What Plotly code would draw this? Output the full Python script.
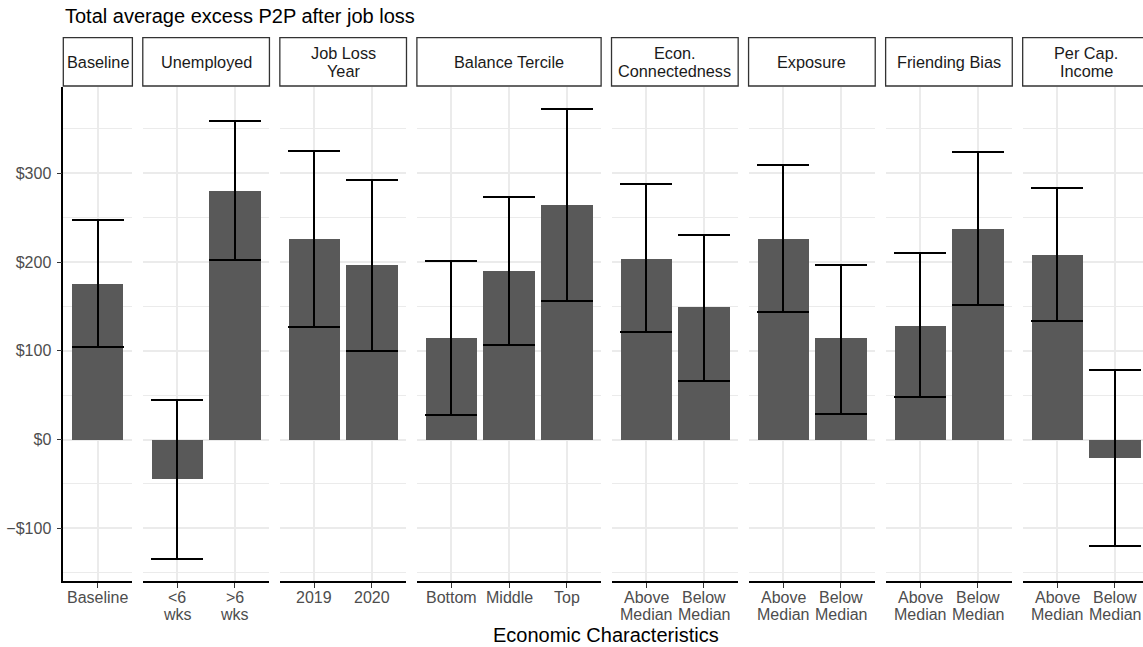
import plotly.graph_objects as go

# ---------------- data ----------------
panels = ["Baseline", "Unemployed", "Job Loss\nYear", "Balance Tercile",
          "Econ.\nConnectedness", "Exposure", "Friending Bias", "Per Cap.\nIncome"]
categories = [
    ["Baseline"],
    ["<6\nwks", ">6\nwks"],
    ["2019", "2020"],
    ["Bottom", "Middle", "Top"],
    ["Above\nMedian", "Below\nMedian"],
    ["Above\nMedian", "Below\nMedian"],
    ["Above\nMedian", "Below\nMedian"],
    ["Above\nMedian", "Below\nMedian"],
]
estimate = [[175], [-44, 280], [226, 197], [115, 190, 264], [203, 149],
            [226, 114], [128, 237], [208, -21]]
lower = [[104], [-134, 202], [127, 100], [28, 107, 156], [121, 66],
         [144, 29], [48, 152], [134, -120]]
upper = [[247], [45, 359], [325, 293], [201, 273, 372], [288, 231],
         [309, 197], [210, 324], [283, 79]]
y_ticks = [-100, 0, 100, 200, 300]
y_tick_labels = ["\u2212$100", "$0", "$100", "$200", "$300"]
title_text = "Total average excess P2P after job loss"
x_title = "Economic Characteristics"

# ---------------- layout geometry (pixels) ----------------
W, H = 1143, 647
LEFT = 63.3
UNIT = 57.57
GAP = 10.4
PANEL_TOP = 87.0
PANEL_BOTTOM = 581.0
STRIP_TOP = 37.7
STRIP_BOTTOM = 86.0
Y_RANGE = [-159.3, 397.3]
TICK_LINE1 = 597.3
TICK_LINE_SP = 17.0

FONT = "Liberation Sans, Arial, Helvetica, sans-serif"
BAR_COLOR = "#595959"
GRID = "#EBEBEB"


def px(p):
    return p / W


def py(p):
    return 1 - p / H


fig = go.Figure()
layout = dict(
    width=W, height=H,
    margin=dict(l=0, r=0, t=0, b=0),
    paper_bgcolor="white", plot_bgcolor="white",
    showlegend=False,
    template="none",
    font=dict(family=FONT, size=16, color="#4D4D4D"),
    bargap=0,
)
shapes = []
annotations = []

x0 = LEFT
for i, (pname, cats) in enumerate(zip(panels, categories)):
    n = len(cats)
    width_px = (n + 0.2) * UNIT
    x1 = x0 + width_px
    x1c = min(x1, W)
    rng_hi = -0.6 + (x1c - x0) / UNIT
    ax = "" if i == 0 else str(i + 1)
    keys = [f"c{j}" for j in range(n)]
    est = estimate[i]
    up = [u - e for u, e in zip(upper[i], est)]
    dn = [e - l for l, e in zip(lower[i], est)]
    fig.add_trace(go.Bar(
        x=keys, y=est, width=0.9, marker=dict(color=BAR_COLOR, line=dict(width=0)),
        error_y=dict(type="data", symmetric=False, array=up, arrayminus=dn,
                     color="black", thickness=2, width=26),
        xaxis="x" + ax, yaxis="y" + ax, hoverinfo="skip",
    ))
    layout["xaxis" + ax] = dict(
        domain=[px(x0), px(x1c)], anchor="y" + ax, type="category",
        categoryorder="array", categoryarray=keys,
        tickvals=keys, showticklabels=False,
        range=[-0.6, rng_hi], showgrid=True, gridcolor=GRID, gridwidth=1.5,
        showline=True, linecolor="black", linewidth=1.6,
        ticks="outside", ticklen=5, tickwidth=1.4, tickcolor="#333333",
        zeroline=False, fixedrange=True, automargin=False,
    )
    layout["yaxis" + ax] = dict(
        domain=[py(PANEL_BOTTOM), py(PANEL_TOP)], anchor="x" + ax,
        range=Y_RANGE, tickvals=y_ticks, ticktext=y_tick_labels,
        showticklabels=(i == 0), ticks="outside" if i == 0 else "",
        ticklen=5, tickwidth=1.4, tickcolor="#333333", ticklabelstandoff=2,
        tickfont=dict(family=FONT, size=16, color="#4D4D4D"),
        showgrid=True, gridcolor=GRID, gridwidth=1.5,
        minor=dict(dtick=50, tick0=0, showgrid=True, gridcolor=GRID, gridwidth=0.9),
        showline=(i == 0), linecolor="black", linewidth=1.6,
        zeroline=False, fixedrange=True, automargin=False,
    )
    # category tick labels (one annotation per text line, tied to the category axis)
    for key, cat in zip(keys, cats):
        for k, ln in enumerate(cat.split("\n")):
            annotations.append(dict(text=ln.replace("<", "&lt;").replace(">", "&gt;"),
                                    xref="x" + ax, yref="paper", x=key,
                                    y=py(TICK_LINE1 + k * TICK_LINE_SP),
                                    xanchor="center", yanchor="middle", showarrow=False,
                                    font=dict(family=FONT, size=16, color="#4D4D4D")))
    # strip
    shapes.append(dict(type="rect", xref="paper", yref="paper",
                       x0=px(x0), x1=px(x1) if x1 <= W else 1.002,
                       y0=py(STRIP_BOTTOM), y1=py(STRIP_TOP),
                       line=dict(color="#333333", width=1.3), fillcolor="white", layer="above"))
    lines = pname.split("\n")
    cy = (STRIP_TOP + STRIP_BOTTOM) / 2
    spacing = 18.4
    for k, ln in enumerate(lines):
        yc = cy + (k - (len(lines) - 1) / 2) * spacing
        annotations.append(dict(text=ln, xref="paper", yref="paper",
                                x=px((x0 + x1) / 2), y=py(yc), xanchor="center", yanchor="middle",
                                showarrow=False, font=dict(family=FONT, size=16.3, color="#1A1A1A")))
    x0 = x1 + GAP

full_right = x0 - GAP
annotations.append(dict(text=title_text, xref="paper", yref="paper", x=px(LEFT), y=py(16.5),
                        xanchor="left", yanchor="middle", showarrow=False,
                        font=dict(family=FONT, size=20, color="black")))
annotations.append(dict(text=x_title, xref="paper", yref="paper",
                        x=px((LEFT + full_right) / 2), y=py(635), xanchor="center", yanchor="middle",
                        showarrow=False, font=dict(family=FONT, size=20, color="black")))
layout["shapes"] = shapes
layout["annotations"] = annotations
fig.update_layout(**layout)
fig.write_html("out.html", config={"displayModeBar": False},
               post_script="document.body.style.margin='0px';document.body.style.padding='0px';")
